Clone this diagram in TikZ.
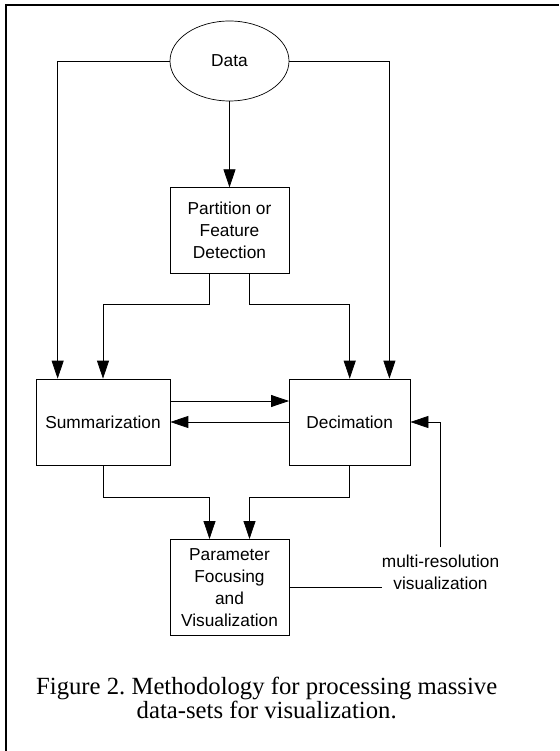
\documentclass[tikz,border=0pt]{standalone}
\usepackage{fontspec}
\setmainfont{Liberation Serif}
\newfontfamily\boxfont{Liberation Sans}
\usetikzlibrary{positioning,arrows.meta,shapes.geometric}

\begin{document}
\frenchspacing
\begin{tikzpicture}[x=1pt, y=-1pt, >={Triangle[length=18pt,width=12pt]}, every node/.style={font=\boxfont\fontsize{17.3}{22}\selectfont}]
\tikzset{
  block/.style={rectangle, draw, line width=0.7pt, align=center, inner sep=0pt},
  blob/.style={ellipse, draw, line width=0.7pt, inner sep=0pt},
  link/.style={line width=0.75pt},
  note/.style={align=center, inner sep=0pt}
}
\useasboundingbox (0,0) rectangle (559,751);
\draw[line width=2pt] (6,751) -- (6,5) -- (559,5);
\node[blob, minimum width=119pt, minimum height=80pt] (data) at (229.5,61) {Data};
\node[block, minimum width=119pt, minimum height=85.6pt] (part) at (229.5,230.5) {Partition or\\Feature\\Detection};
\node[block, minimum width=134pt, minimum height=86pt] (summ) at (103,422) {Summarization};
\node[block, minimum width=120.7pt, minimum height=86pt] (deci) at (349.7,422) {Decimation};
\node[block, minimum width=119pt, minimum height=95.7pt] (param) at (229.5,587.2) {Parameter\\Focusing\\and\\Visualization};
\node[note] (mres) at (440.5,572) {multi-resolution\\visualization};
\node[align=center, font=\fontsize{24.7}{24.5}\selectfont] (caption) at (266.7,698) {Figure 2. Methodology for processing massive\\data-sets for visualization.};
\draw[link, ->] (data.south) -- (part.north);
\draw[link, ->] (data.west) -| ([xshift=22pt]summ.north west);
\draw[link, ->] (data.east) -| ([xshift=-21pt]deci.north east);
\draw[link, ->] ([xshift=-20pt]part.south) -- ++(0,30.7) -| (summ.north);
\draw[link, ->] ([xshift=20pt]part.south) -- ++(0,30.7) -| (deci.north);
\draw[link, ->] ([yshift=21pt]summ.east) -- ([yshift=21pt]deci.west);
\draw[link, ->] (deci.west) -- (summ.east);
\draw[link, ->] (summ.south) -- ++(0,31.7) -| ([xshift=-20pt]param.north);
\draw[link, ->] (deci.south) -- ++(0,31.7) -| ([xshift=20pt]param.north);
\draw[link] (param.east) -- (param.east -| mres.west);
\draw[link, ->] ([yshift=7pt]mres.north) |- (deci.east);
\end{tikzpicture}
\end{document}
